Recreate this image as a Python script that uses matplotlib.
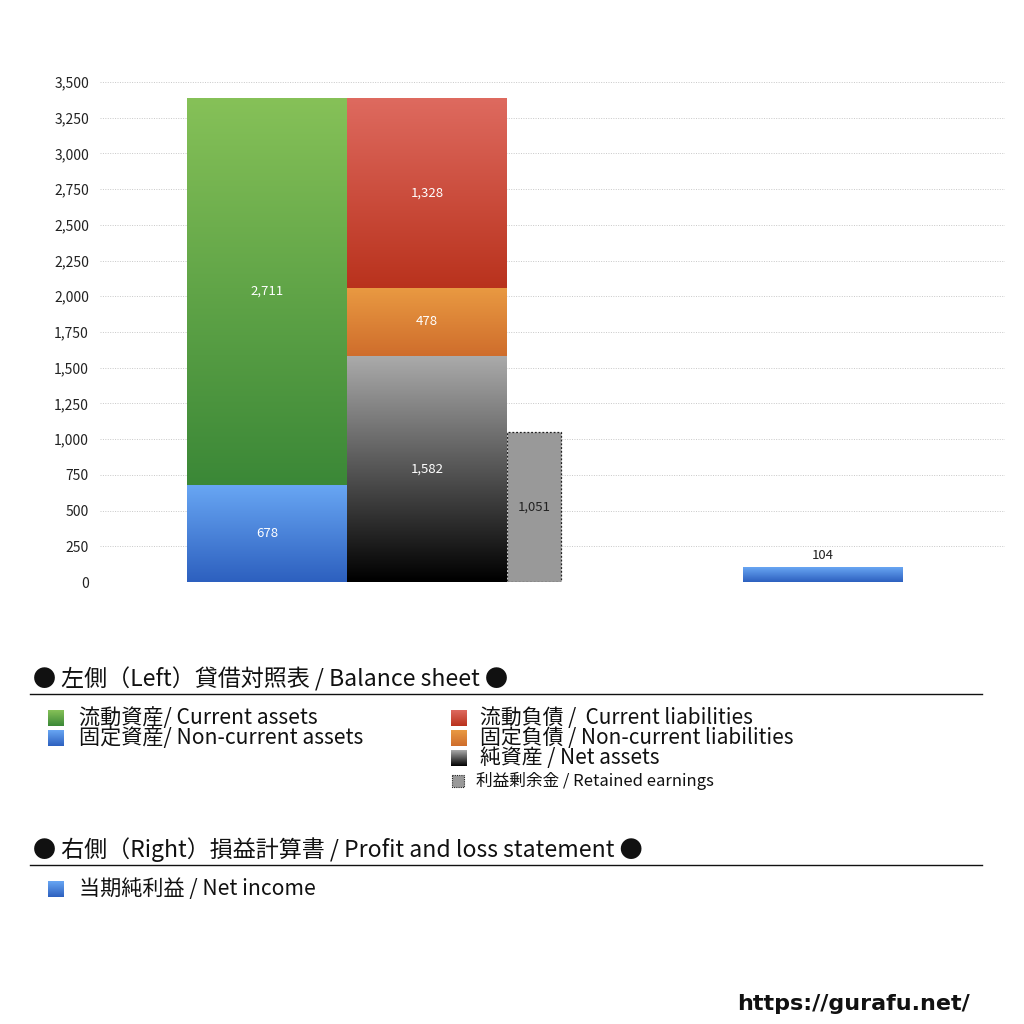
import numpy as np
import matplotlib
matplotlib.use('Agg')
import matplotlib.pyplot as plt
from matplotlib.colors import to_rgb
from matplotlib.patches import Rectangle

plt.rcParams['font.family'] = ['Noto Sans CJK JP', 'DejaVu Sans']

# data
current_assets = 2711
noncurrent_assets = 678
current_liab = 1328
noncurrent_liab = 478
net_assets = 1582
retained_earnings = 1051
net_income = 104

yticks = [0, 250, 500, 750, 1000, 1250, 1500, 1750, 2000, 2250, 2500, 2750, 3000, 3250, 3500]

green = ('#86c158', '#3b8837')
blue = ('#68a6f3', '#2d60bf')
red = ('#de6a5f', '#b9321d')
orange = ('#e99a42', '#cf6d2c')
black = ('#aaaaaa', '#000000')
gray = '#999999'


def grad_img(top, bottom, n=128):
    t = np.linspace(0, 1, n)[:, None]
    a = np.array(to_rgb(bottom))
    b = np.array(to_rgb(top))
    return (a + (b - a) * t)[:, None, :]


def fill_grad(ax, bar, cols):
    x0, y0 = bar.get_x(), bar.get_y()
    im = ax.imshow(grad_img(*cols), extent=(x0, x0 + bar.get_width(), y0, y0 + bar.get_height()),
                   origin='lower', aspect='auto', zorder=bar.get_zorder(), interpolation='bilinear')
    im.set_clip_path(bar)
    bar.set_facecolor('none')


fig = plt.figure(figsize=(10.24, 10.24), dpi=100)
ax = fig.add_axes([100 / 1024, 1 - 582 / 1024, 905 / 1024, 500 / 1024])

w = 160 / 452.5
xl, xr = -139 / 452.5 + w / 2, 21 / 452.5 + w / 2
xre = 181 / 452.5 + 27 / 452.5
xni = 417 / 452.5 + w / 2

b_nca = ax.bar(xl, noncurrent_assets, w, zorder=2)[0]
b_ca = ax.bar(xl, current_assets, w, bottom=noncurrent_assets, zorder=2)[0]
b_na = ax.bar(xr, net_assets, w, zorder=2)[0]
b_ncl = ax.bar(xr, noncurrent_liab, w, bottom=net_assets, zorder=2)[0]
b_cl = ax.bar(xr, current_liab, w, bottom=net_assets + noncurrent_liab, zorder=2)[0]
b_re = ax.bar(xre, retained_earnings, 54 / 452.5, color=gray, edgecolor='#222222',
              linestyle=(0, (1.5, 1.5)), linewidth=0.9, zorder=2)[0]
b_ni = ax.bar(xni, net_income, w, zorder=2)[0]

for b, c in [(b_nca, blue), (b_ca, green), (b_na, black), (b_ncl, orange), (b_cl, red), (b_ni, blue)]:
    fill_grad(ax, b, c)

for b, v in [(b_nca, noncurrent_assets), (b_ca, current_assets), (b_na, net_assets),
             (b_ncl, noncurrent_liab), (b_cl, current_liab)]:
    ax.text(b.get_x() + b.get_width() / 2, b.get_y() + b.get_height() / 2, f'{v:,}',
            ha='center', va='center', color='white', fontsize=9.5, zorder=5)
ax.text(b_re.get_x() + b_re.get_width() / 2, retained_earnings / 2, f'{retained_earnings:,}',
        ha='center', va='center', color='#222222', fontsize=9.5, zorder=5)
ax.text(b_ni.get_x() + b_ni.get_width() / 2, net_income + 35, f'{net_income:,}',
        ha='center', va='bottom', color='#222222', fontsize=9.5, zorder=5)

ax.set_xlim(-0.5, 1.5)
ax.set_ylim(0, 3500)
ax.set_yticks(yticks)
ax.set_yticklabels([f'{v:,}' for v in yticks], fontsize=10, color='#222222')
ax.set_xticks([])
ax.tick_params(axis='y', length=0, pad=8)
for s in ax.spines.values():
    s.set_visible(False)
ax.yaxis.grid(True, color='#c8c8c8', linestyle=(0, (1, 1.5)), linewidth=0.7, zorder=0)
ax.set_axisbelow(True)

# legend area in pixel coordinates
lg = fig.add_axes([0, 0, 1, 1])
lg.set_xlim(0, 1024)
lg.set_ylim(1024, 0)
lg.axis('off')


def sq(x, y, cols, s=16):
    lg.imshow(grad_img(*cols), extent=(x, x + s, y + s / 2, y - s / 2), origin='lower',
              aspect='auto', interpolation='bilinear')


lg.text(33, 679, '● 左側（Left）貸借対照表 / Balance sheet ●', fontsize=16.6, va='center', color='#111111')
lg.plot([30, 982], [694, 694], color='#111111', lw=1)
left_items = [(green, '流動資産/ Current assets', 718), (blue, '固定資産/ Non-current assets', 738)]
right_items = [(red, '流動負債 /  Current liabilities', 718), (orange, '固定負債 / Non-current liabilities', 738),
               (black, '純資産 / Net assets', 758)]
for c, t, y in left_items:
    sq(48, y, c)
    lg.text(79, y, t, fontsize=15.2, va='center', color='#111111')
for c, t, y in right_items:
    sq(451, y, c)
    lg.text(480, y, t, fontsize=15.0, va='center', color='#111111')
lg.add_patch(Rectangle((452, 775), 12, 12, facecolor=gray, edgecolor='#222222',
                       linestyle=(0, (1, 1)), linewidth=0.8))
lg.text(476, 781, '利益剰余金 / Retained earnings', fontsize=12, va='center', color='#111111')

lg.text(33, 850, '● 右側（Right）損益計算書 / Profit and loss statement ●', fontsize=16.6, va='center', color='#111111')
lg.plot([30, 982], [865, 865], color='#111111', lw=1)
sq(48, 889, blue)
lg.text(79, 889, '当期純利益 / Net income', fontsize=15.2, va='center', color='#111111')

lg.text(970, 1004, 'https://gurafu.net/', fontsize=16, fontweight='bold', ha='right', va='center',
        color='#111111', family=['DejaVu Sans'])

fig.savefig('out.png', dpi=100)
